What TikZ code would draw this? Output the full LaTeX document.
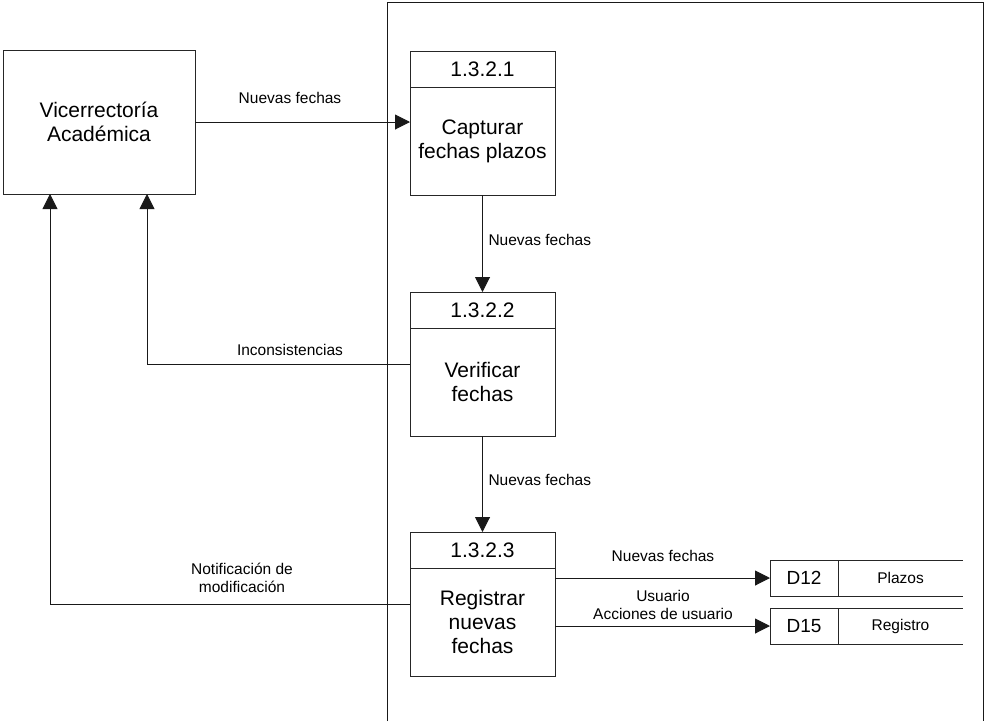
\documentclass[tikz,border=0pt]{standalone}
\usepackage{fontspec}
\setmainfont{Liberation Sans}
\usetikzlibrary{positioning,arrows.meta}

\begin{document}
\begin{tikzpicture}[
    x=1pt, y=-1pt,
    box/.style={rectangle, draw=black!85, line width=1pt, outer sep=0pt, inner sep=2pt,
                text centered, align=center, font=\fontsize{21}{24}\selectfont},
    entitybox/.style={box, minimum width=192pt, minimum height=144pt},
    headbox/.style={box, minimum width=145pt, minimum height=36pt},
    procbox/.style={box, minimum width=145pt, minimum height=108pt},
    storeid/.style={box, minimum width=68pt, minimum height=36pt, font=\fontsize{19}{22}\selectfont},
    storename/.style={rectangle, outer sep=0pt, minimum width=125pt, minimum height=36pt,
                font=\fontsize{15.5}{18}\selectfont},
    flowlabel/.style={font=\fontsize{15.5}{18.5}\selectfont, align=center},
    arrow/.style={line width=1pt, draw=black!90, -{Triangle[length=15pt,width=15pt]}}
]
\useasboundingbox (0,0) rectangle (987,721);

% System frame
\draw[line width=1pt, black!90] (387,721) |- (983,2) -- (983,721);

% External entity
\node[entitybox] (vice) at (99,122) {Vicerrectoría\\Académica};

% Processes
\node[headbox] (p1head) at (482.5,69) {1.3.2.1};
\node[procbox, below=0pt of p1head] (p1) {Capturar\\fechas plazos};

\node[headbox, below=97pt of p1] (p2head) {1.3.2.2};
\node[procbox, below=0pt of p2head] (p2) {Verificar\\fechas};

\node[headbox, below=96pt of p2] (p3head) {1.3.2.3};
\node[procbox, below=0pt of p3head] (p3) {Registrar\\nuevas\\fechas};

% Data stores
\node[storeid] (d12) at (804,578) {D12};
\node[storename, right=0pt of d12] (d12name) {Plazos};
\node[storeid] (d15) at (804,626) {D15};
\node[storename, right=0pt of d15] (d15name) {Registro};

\draw[line width=1pt, black!85] (d12.north east) -- (d12name.north east);
\draw[line width=1pt, black!85] (d12.south east) -- (d12name.south east);
\draw[line width=1pt, black!85] (d15.north east) -- (d15name.north east);
\draw[line width=1pt, black!85] (d15.south east) -- (d15name.south east);

% Flows
\draw[arrow] (vice.east) -- (vice.east -| p1.west);
\draw[arrow] (p1.south) -- (p2head.north);
\draw[arrow] (p2.south) -- (p3head.north);
\draw[arrow] ([yshift=18pt]p2.west) -| ([xshift=48pt]vice.south);
\draw[arrow] ([yshift=18pt]p3.west) -| ([xshift=-49pt]vice.south);
\draw[arrow] (p3.east |- d12.west) -- (d12.west);
\draw[arrow] (p3.east |- d15.west) -- (d15.west);

% Flow labels
\node[flowlabel] (lblvice) at (290,98) {Nuevas fechas};
\node[flowlabel, anchor=west] (lbl12) at (485,240) {Nuevas fechas};
\node[flowlabel, anchor=west] (lbl23) at (485,480) {Nuevas fechas};
\node[flowlabel] (lblinc) at (290,350) {Inconsistencias};
\node[flowlabel] (lblnot) at (242,578) {Notificación de\\modificación};
\node[flowlabel] (lblplz) at (663,556) {Nuevas fechas};
\node[flowlabel] (lblreg) at (663,605) {Usuario\\Acciones de usuario};

\end{tikzpicture}
\end{document}
